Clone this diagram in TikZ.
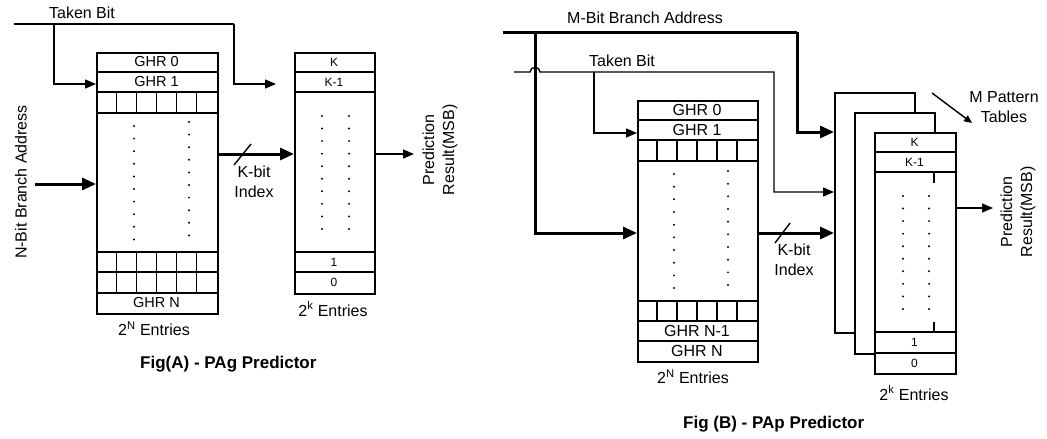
\documentclass[tikz,border=0pt]{standalone}
\usepackage{fontspec}
\setmainfont{Liberation Sans}
\usetikzlibrary{arrows.meta}
\begin{document}
\begin{tikzpicture}[x=1pt,y=-1pt,
  wire/.style={line width=1.4pt},
  bus/.style={line width=3pt},
  arrtip/.style={-{Triangle[length=11pt,width=9pt]}},
  arrbig/.style={-{Triangle[length=14pt,width=12pt]}},
  arrsmall/.style={-{Triangle[length=8pt,width=7pt]}},
  tblframe/.style={draw, line width=1.6pt, fill=white, inner sep=0pt, anchor=north west},
  rowsep/.style={line width=1.6pt},
  cellsep/.style={line width=1.1pt},
  lbl/.style={font=\fontsize{16}{20}\selectfont, inner sep=0pt},
  ghr/.style={font=\fontsize{14.5}{16}\selectfont, inner sep=0pt},
  ghrb/.style={font=\fontsize{16}{18}\selectfont, inner sep=0pt},
  ent/.style={font=\fontsize{12}{14}\selectfont, inner sep=0pt},
  figcap/.style={font=\bfseries\fontsize{17}{20}\selectfont, inner sep=0pt}
]
\useasboundingbox (0,0) rectangle (1047,439);

% ================= Fig A =================
\node[tblframe, minimum width=121pt, minimum height=261pt] (ghrA) at (96,52) {};
\foreach \yy in {72,92,113,252,272,293} \draw[rowsep] (96,\yy) -- (217,\yy);
\foreach \xx in {116.2,136.3,156.5,176.7,196.8} {
  \draw[cellsep] (\xx,92) -- (\xx,113);
  \draw[cellsep] (\xx,252) -- (\xx,293);
}
\node[ghr] (gA0) at (156.5,62) {GHR 0};
\node[ghr] (gA1) at (156.5,82) {GHR 1};
\node[ghr] (gAN) at (156.5,303) {GHR N};
\foreach \i in {0,...,9} {
  \fill (134,{126+12.6*\i}) circle (1.1pt);
  \fill (189,{122+12.6*\i}) circle (1.1pt);
}

\node[tblframe, minimum width=80pt, minimum height=241pt] (patA) at (294,52) {};
\foreach \yy in {72,92,252,272} \draw[rowsep] (294,\yy) -- (374,\yy);
\node[ent] (pAk) at (334,62) {K};
\node[ent] (pAk1) at (334,82) {K-1};
\node[ent] (pA1) at (334,262) {1};
\node[ent] (pA0) at (334,282.5) {0};
\foreach \i in {0,...,9} {
  \fill (322,{116+12.55*\i}) circle (1.1pt);
  \fill (349,{116+12.55*\i}) circle (1.1pt);
}

% taken bit
\coordinate (tbA) at (14,24);
\coordinate (tbA1) at (54,24);
\coordinate (tbA2) at (234,24);
\coordinate (tbAend) at (276,84);
\draw[wire] (tbA) -- (tbA2);
\draw[wire,arrtip] (tbA2) |- (tbAend);
\draw[wire,arrtip] (tbA1) |- (ghrA.west |- tbAend);
\node[lbl] (tbAl) at (82,12.5) {Taken Bit};

% N-bit address
\coordinate (nbA) at (35,184);
\draw[bus,arrbig] (nbA) -- (ghrA.west |- nbA);
\node[lbl, rotate=90] (nbAl) at (21,182) {N-Bit Branch Address};

% K-bit index
\coordinate (kA) at (217,154);
\draw[bus,arrbig] (kA) -- (patA.west |- kA);
\draw[wire] (234,165) -- (251,144);
\node[lbl, align=center] (kAl) at (254,182) {K-bit\\Index};

% output
\coordinate (oA) at (414,154);
\draw[wire,arrtip] (patA.east |- oA) -- (oA);
\node[lbl, rotate=90, align=center] (prA) at (440,150) {Prediction\\Result(MSB)};

\node[lbl] (eA1) at (154,329) {2\textsuperscript{N} Entries};
\node[lbl] (eA2) at (333,309) {2\textsuperscript{k} Entries};
\node[figcap, anchor=base west] (capA) at (140,368) {Fig(A) - PAg Predictor};

% ================= Fig B =================
\node[tblframe, minimum width=120pt, minimum height=261pt] (ghrB) at (637,100) {};
\foreach \yy in {120,140,161,301,321,341} \draw[rowsep] (637,\yy) -- (757,\yy);
\foreach \xx in {657,677,697,717,737} {
  \draw[cellsep] (\xx,140) -- (\xx,161);
  \draw[cellsep] (\xx,301) -- (\xx,321);
}
\node[ghrb] (gB0) at (697,110) {GHR 0};
\node[ghrb] (gB1) at (697,130) {GHR 1};
\node[ghrb] (gBN1) at (697,331) {GHR N-1};
\node[ghrb] (gBN) at (697,351) {GHR N};
\foreach \i in {0,...,9} {
  \fill (674,{174+12.67*\i}) circle (1.1pt);
  \fill (728,{171+12.67*\i}) circle (1.1pt);
}

% stacked pattern tables
\node[tblframe, minimum width=80pt, minimum height=240pt] (t1) at (834,92) {};
\node[tblframe, minimum width=80pt, minimum height=241pt] (t2) at (854,112) {};
\node[tblframe, minimum width=81pt, minimum height=241pt] (t3) at (874,132) {};
\foreach \yy in {152,172,332,353} \draw[rowsep] (874,\yy) -- (955,\yy);
\draw[rowsep] (934,172) -- (934,183);
\draw[rowsep] (934,322) -- (934,332);
\node[ent] (pBk) at (914.5,142) {K};
\node[ent] (pBk1) at (914.5,162) {K-1};
\node[ent] (pB1) at (914.5,342.5) {1};
\node[ent] (pB0) at (914.5,363) {0};
\foreach \i in {0,...,9} {
  \fill (903,{196+12.55*\i}) circle (1.1pt);
  \fill (929,{196+12.55*\i}) circle (1.1pt);
}

% M-bit branch address
\coordinate (mb0) at (503,32);
\coordinate (mbJ) at (535,32);
\coordinate (mbC) at (797,32);
\coordinate (mbE) at (832,132);
\coordinate (kB) at (757,233);
\draw[bus] (mb0) -- (mbC);
\draw[bus,arrbig] (mbC) |- (t1.west |- mbE);
\draw[bus,arrbig] (mbJ) |- (ghrB.west |- kB);
\node[lbl] (mbl) at (645,17.5) {M-Bit Branch Address};

% taken bit B
\coordinate (tb0) at (514,72);
\coordinate (tbJ) at (594,72);
\coordinate (tbC) at (774,72);
\coordinate (tbE) at (832,192);
\coordinate (tbG) at (600,133);
\draw[wire,arrtip] (tb0) -- (530,72) .. controls (530,66) and (540,66) .. (540,72) -- (tbC) |- (t1.west |- tbE);
\draw[wire,arrtip] (tbJ) |- (ghrB.west |- tbG);
\node[lbl] (tbBl) at (622,61) {Taken Bit};

% K-bit index B
\draw[bus,arrbig] (kB) -- (t1.west |- kB);
\draw[wire] (775,243) -- (790,223);
\node[lbl, align=center] (kBl) at (794,260) {K-bit\\Index};

% output B
\coordinate (oB) at (993,208);
\draw[wire,arrtip] (t3.east |- oB) -- (oB);
\node[lbl, rotate=90, align=center] (prB) at (1018,212) {Prediction\\Result(MSB)};

% M pattern tables
\node[lbl, align=center] (mpt) at (1004,107) {M Pattern\\Tables};
\coordinate (mpa) at (932,93);
\coordinate (mpb) at (972,123);
\draw[wire,arrsmall] (mpa) -- (mpb);

\node[lbl] (eB1) at (693,377) {2\textsuperscript{N} Entries};
\node[lbl] (eB2) at (914,393) {2\textsuperscript{k} Entries};
\node[figcap, anchor=base west] (capB) at (683,428) {Fig (B) - PAp Predictor};
\end{tikzpicture}
\end{document}
